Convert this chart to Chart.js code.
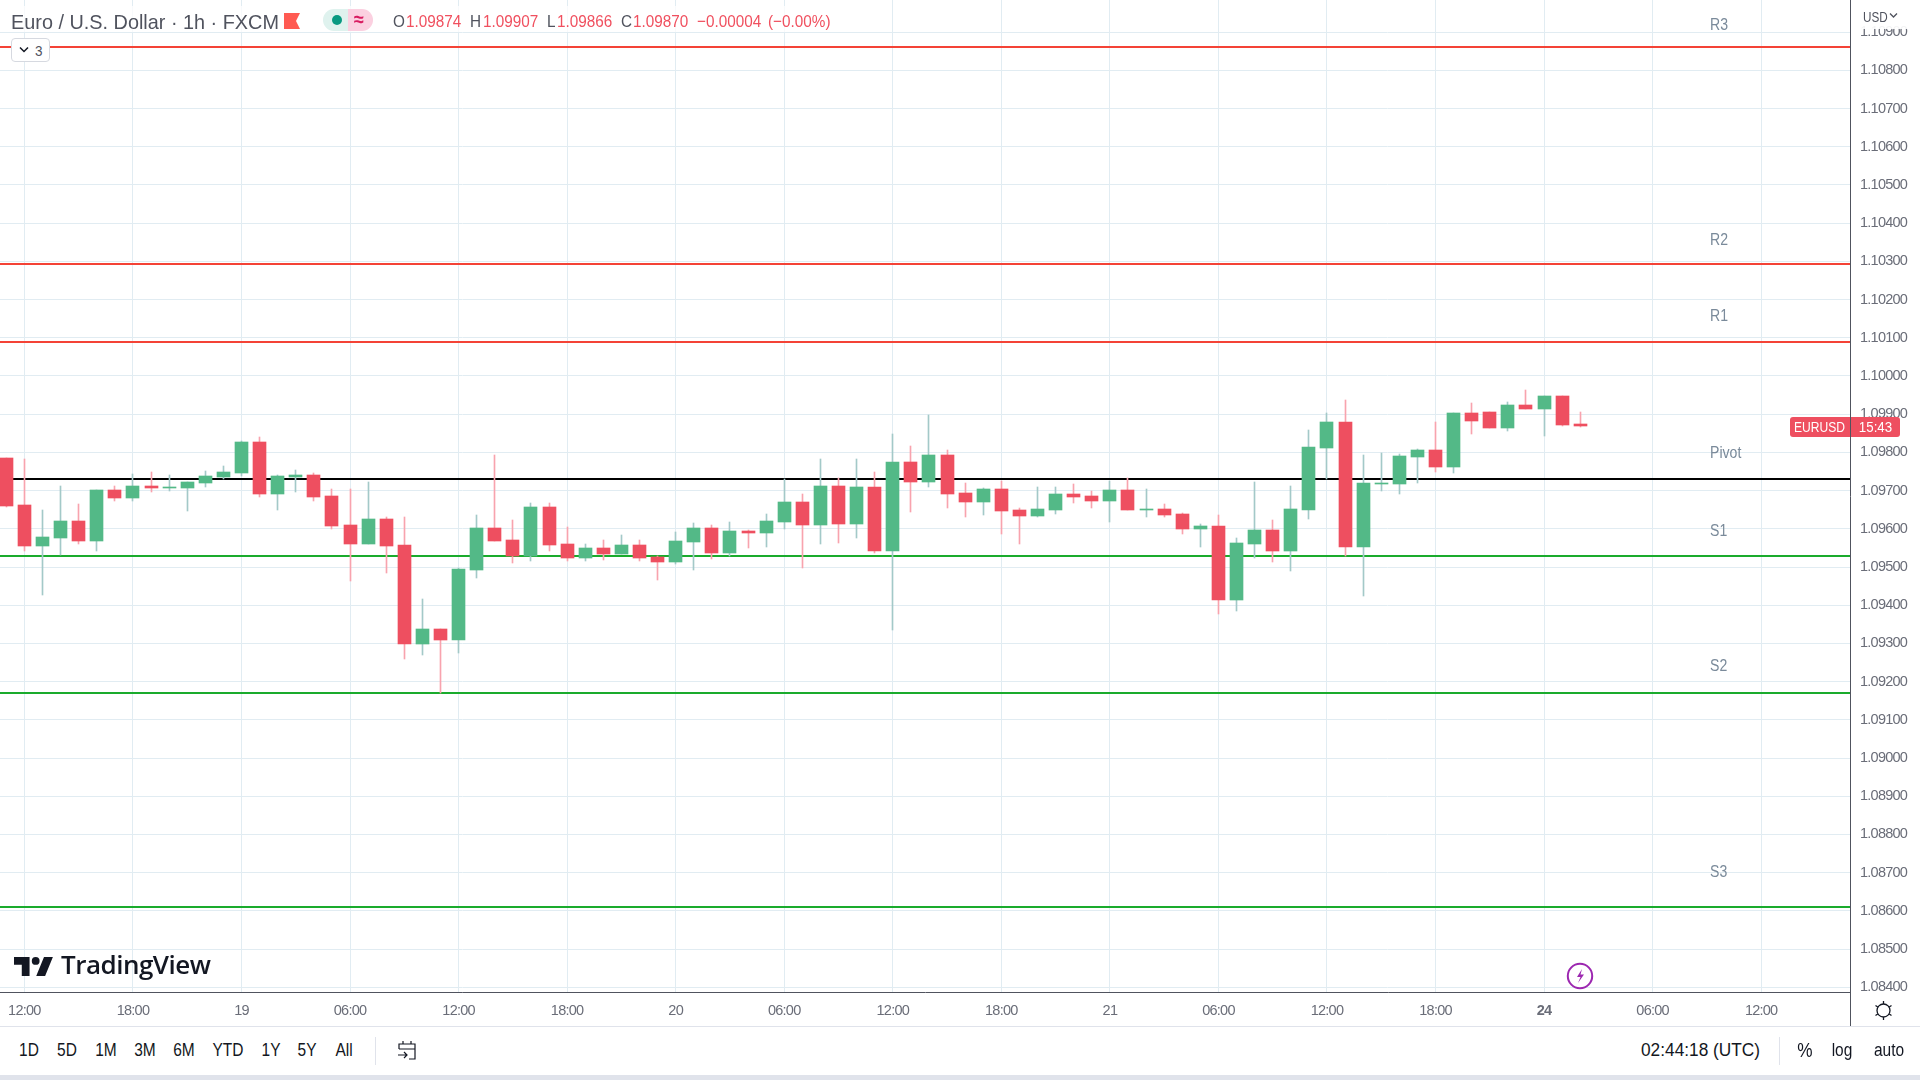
<!DOCTYPE html>
<html><head><meta charset="utf-8"><title>EURUSD</title>
<script src="https://cdn.jsdelivr.net/npm/chart.js@4/dist/chart.umd.min.js"></script>
<style>
html,body{margin:0;padding:0;background:#fff;width:1920px;height:1080px;overflow:hidden}
body{position:relative;font-family:"Liberation Sans",sans-serif;color:#131722}
canvas{position:absolute;left:0;top:0}
.t{position:absolute;white-space:nowrap;line-height:1;transform-origin:left center;transform:scaleX(.9)}
.c{transform-origin:center center;transform:translateX(-50%) scaleX(.86)}
.box{position:absolute}
.g{color:#50535e}.r{color:#f0505f}
svg{position:absolute}
</style></head><body>
<canvas id="c" width="1920" height="1027"></canvas>

<div class="box" style="left:1852px;top:0;width:68px;height:29px;background:rgba(255,255,255,.92)"></div>
<div class="t" style="left:1863px;top:9px;font-size:15px;color:#50535e;transform:scaleX(.78)">USD</div>
<svg style="left:1889px;top:12px" width="9" height="7" viewBox="0 0 9 7"><path d="M1 1.5l3.5 3.5L8 1.5" fill="none" stroke="#50535e" stroke-width="1.3"/></svg>

<div class="box" style="left:0;top:6px;width:835px;height:26px;background:rgba(255,255,255,.75)"></div>
<div class="t" style="left:11px;top:11px;font-size:21px;color:#50535e;transform:scaleX(.945)" id="title">Euro / U.S. Dollar · 1h · FXCM</div>
<svg style="left:284px;top:13px" width="16" height="16" viewBox="0 0 16 16"><path d="M0 0H16L12 8L16 16H0Z" fill="#ff5a52"/></svg>
<div class="box" style="left:323px;top:9px;width:25px;height:22px;background:#dff2ee;border-radius:11px 0 0 11px"></div>
<div class="box" style="left:348px;top:9px;width:25px;height:22px;background:#fbd0e0;border-radius:0 11px 11px 0"></div>
<div class="box" style="left:332px;top:15px;width:10px;height:10px;background:#089981;border-radius:5px"></div>
<div class="t" style="left:354px;top:9px;font-size:20px;color:#d81b60;font-weight:bold">≈</div>

<div class="t g" style="left:393px;top:13px;font-size:17px">O</div><div class="t r" style="left:406px;top:13px;font-size:17px">1.09874</div>
<div class="t g" style="left:470px;top:13px;font-size:17px">H</div><div class="t r" style="left:483px;top:13px;font-size:17px">1.09907</div>
<div class="t g" style="left:547px;top:13px;font-size:17px">L</div><div class="t r" style="left:557px;top:13px;font-size:17px">1.09866</div>
<div class="t g" style="left:621px;top:13px;font-size:17px">C</div><div class="t r" style="left:633px;top:13px;font-size:17px">1.09870</div>
<div class="t r" style="left:697px;top:13px;font-size:17px">−0.00004</div>
<div class="t r" style="left:768px;top:13px;font-size:17px">(−0.00%)</div>

<div class="box" style="left:11px;top:38px;width:39px;height:24px;background:#fff;border:1px solid #d6d9e0;border-radius:4px;box-sizing:border-box"></div>
<svg style="left:19px;top:46px" width="10" height="8" viewBox="0 0 10 8"><path d="M1 1.5l4 4 4-4" fill="none" stroke="#131722" stroke-width="1.5"/></svg>
<div class="t" style="left:35px;top:43px;font-size:15px;color:#50535e">3</div>

<svg style="left:14px;top:957px" width="40" height="19" viewBox="0 0 36 17"><path d="M14 17H7V7H0V0h14zM28 17h-8L27 0h8z" fill="#131722"/><circle cx="19.5" cy="3.5" r="3.5" fill="#131722"/></svg>
<div class="t" style="left:61px;top:951px;font-family:'Open Sans',sans-serif;font-weight:600;font-size:26px;letter-spacing:-.5px;color:#131722;transform:none">TradingView</div>

<svg style="left:1566px;top:962px" width="28" height="28" viewBox="0 0 28 28"><circle cx="14" cy="14" r="12.2" fill="#fff" stroke="#9c27b0" stroke-width="2"/><path d="M16 7l-5 8h3.5l-2.500 6 6-8.500h-3.500z" fill="#9c27b0"/></svg>

<div class="box" style="left:1850px;top:992px;width:1px;height:34px;background:#50535e"></div>
<svg style="left:1873px;top:1000px" width="21" height="21" viewBox="0 0 21 21"><circle cx="10.500" cy="10.500" r="6.500" fill="none" stroke="#131722" stroke-width="1.300"/><path d="M10.500 1v3M10.500 17v3M2.500 5.500l2.300 1.500M16.200 14l2.300 1.500M2.500 15.500l2.300-1.500M16.200 7l2.300-1.500" stroke="#131722" stroke-width="1.300"/></svg>
<div class="box" style="left:0;top:1026px;width:1920px;height:1px;background:#e0e3eb"></div>

<div class="t c" style="left:29px;top:1041px;font-size:18px">1D</div>
<div class="t c" style="left:67px;top:1041px;font-size:18px">5D</div>
<div class="t c" style="left:106px;top:1041px;font-size:18px">1M</div>
<div class="t c" style="left:145px;top:1041px;font-size:18px">3M</div>
<div class="t c" style="left:184px;top:1041px;font-size:18px">6M</div>
<div class="t c" style="left:228px;top:1041px;font-size:18px">YTD</div>
<div class="t c" style="left:271px;top:1041px;font-size:18px">1Y</div>
<div class="t c" style="left:307px;top:1041px;font-size:18px">5Y</div>
<div class="t c" style="left:344px;top:1041px;font-size:18px">All</div>
<div class="box" style="left:375px;top:1037px;width:1px;height:28px;background:#e0e3eb"></div>
<svg style="left:396px;top:1040px" width="22" height="22" viewBox="0 0 22 22"><path d="M3 9V4h16v15h-6M3 9h16M7 1v3M15 1v3M2 15h9M8 12l3 3-3 3" fill="none" stroke="#131722" stroke-width="1.200"/></svg>

<div class="t" style="left:1641px;top:1041px;font-size:18px;transform:scaleX(.96)">02:44:18 (UTC)</div>
<div class="box" style="left:1779px;top:1037px;width:1px;height:28px;background:#e0e3eb"></div>
<div class="t c" style="left:1805px;top:1040px;font-size:20px">%</div>
<div class="t c" style="left:1842px;top:1041px;font-size:18px">log</div>
<div class="t c" style="left:1889px;top:1041px;font-size:18px">auto</div>
<div class="box" style="left:0;top:1075px;width:1920px;height:5px;background:#e0e3eb"></div>

<script>
const firstBar = -1;
const opens = [1.09785,1.09662,1.09555,1.09576,1.09620,1.09568,1.09701,1.09680,1.09712,1.09707,1.09707,1.09720,1.09735,1.09746,1.09827,1.09691,1.09735,1.09741,1.09686,1.09610,1.09560,1.09625,1.09557,1.09298,1.09338,1.09309,1.09492,1.09602,1.09571,1.09530,1.09657,1.09560,1.09523,1.09550,1.09534,1.09557,1.09526,1.09513,1.09565,1.09602,1.09536,1.09594,1.09589,1.09618,1.09670,1.09610,1.09712,1.09612,1.09709,1.09543,1.09775,1.09722,1.09793,1.09694,1.09670,1.09704,1.09649,1.09633,1.09649,1.09691,1.09686,1.09673,1.09701,1.09649,1.09652,1.09639,1.09599,1.09607,1.09413,1.09560,1.09597,1.09543,1.09649,1.09811,1.09879,1.09552,1.09717,1.09717,1.09788,1.09806,1.09762,1.09903,1.09906,1.09864,1.09924,1.09913,1.09948,1.09874];
const highs = [1.09785,1.09783,1.09649,1.09712,1.09665,1.09701,1.09712,1.09743,1.09749,1.09741,1.09722,1.09751,1.09764,1.09830,1.09840,1.09741,1.09754,1.09746,1.09704,1.09704,1.09722,1.09631,1.09631,1.09416,1.09338,1.09497,1.09636,1.09793,1.09623,1.09667,1.09667,1.09605,1.09560,1.09571,1.09584,1.09571,1.09529,1.09591,1.09615,1.09610,1.09618,1.09597,1.09639,1.09730,1.09691,1.09783,1.09733,1.09783,1.09749,1.09848,1.09817,1.09898,1.09806,1.09720,1.09707,1.09725,1.09654,1.09709,1.09709,1.09717,1.09699,1.09725,1.09733,1.09704,1.09665,1.09641,1.09612,1.09636,1.09576,1.09722,1.09623,1.09712,1.09858,1.09903,1.09937,1.09793,1.09798,1.09796,1.09809,1.09879,1.09903,1.09929,1.09906,1.09932,1.09963,1.09948,1.09948,1.09907];
const lows = [1.09657,1.09542,1.09427,1.09531,1.09560,1.09543,1.09673,1.09673,1.09696,1.09699,1.09646,1.09709,1.09730,1.09738,1.09683,1.09649,1.09696,1.09673,1.09599,1.09463,1.09560,1.09484,1.09259,1.09270,1.09170,1.09275,1.09471,1.09568,1.09510,1.09516,1.09542,1.09516,1.09516,1.09518,1.09534,1.09516,1.09466,1.09508,1.09492,1.09521,1.09529,1.09550,1.09552,1.09599,1.09497,1.09560,1.09563,1.09576,1.09536,1.09335,1.09644,1.09709,1.09654,1.09631,1.09636,1.09586,1.09560,1.09631,1.09639,1.09667,1.09654,1.09618,1.09649,1.09631,1.09631,1.09586,1.09552,1.09377,1.09385,1.09523,1.09513,1.09489,1.09625,1.09730,1.09529,1.09424,1.09699,1.09691,1.09720,1.09749,1.09746,1.09848,1.09864,1.09856,1.09913,1.09843,1.09869,1.09866];
const closes = [1.09660,1.09555,1.09578,1.09620,1.09568,1.09701,1.09680,1.09712,1.09707,1.09709,1.09722,1.09738,1.09749,1.09827,1.09691,1.09738,1.09741,1.09683,1.09607,1.09560,1.09625,1.09555,1.09298,1.09338,1.09309,1.09495,1.09602,1.09568,1.09530,1.09657,1.09557,1.09523,1.09550,1.09534,1.09557,1.09523,1.09513,1.09568,1.09602,1.09536,1.09594,1.09589,1.09620,1.09670,1.09610,1.09712,1.09612,1.09709,1.09543,1.09775,1.09722,1.09793,1.09691,1.09670,1.09704,1.09646,1.09633,1.09652,1.09691,1.09683,1.09673,1.09701,1.09649,1.09652,1.09636,1.09599,1.09607,1.09413,1.09563,1.09597,1.09543,1.09652,1.09814,1.09879,1.09552,1.09720,1.09720,1.09790,1.09806,1.09762,1.09903,1.09882,1.09864,1.09924,1.09913,1.09948,1.09872,1.09870];

const timeTickBars = [0,6,12,18,24,30,36,42,48,54,60,66,72,78,84,90,96];
const timeTickLabels = ["12:00","18:00","19","06:00","12:00","18:00","20","06:00","12:00","18:00","21","06:00","12:00","18:00","24","06:00","12:00"];
const boldTimeTick = "24";
const priceTicks = [1.084,1.085,1.086,1.087,1.088,1.089,1.090,1.091,1.092,1.093,1.094,1.095,1.096,1.097,1.098,1.099,1.100,1.101,1.102,1.103,1.104,1.105,1.106,1.107,1.108,1.109];

const levelNames = ["R3","R2","R1","Pivot","S1","S2","S3"];
const levelValues = [1.10861,1.10292,1.10090,1.09730,1.09529,1.09170,1.08609];
const levelColors = ["#f44336","#f44336","#f44336","#000000","#1aab2c","#1aab2c","#1aab2c"];
const levelLabelPrices = [1.10920,1.10356,1.10157,1.09800,1.09596,1.09241,1.08702];

const axisFont = '"Liberation Sans",sans-serif';
const UP = "#53b987", DOWN = "#ee4f60", UPW = "#a3c9c8", DOWNW = "#f8a3ae";
const xMin = -1.348, xMax = 100.91, yMin = 1.083877, yMax = 1.10984;

const isUp = closes.map((c,i)=>c>=opens[i]);
const levelSets = levelValues.map((v,i)=>({
  type:"line", label:levelNames[i], order:3,
  data:[{x:xMin,y:v},{x:xMax,y:v}],
  borderColor:levelColors[i], borderWidth:2, pointRadius:0, tension:0
}));

const noPad = s => { s.paddingLeft=0; s.paddingRight=0; s.paddingTop=0; s.paddingBottom=0; };

const snapMarks = {
  id:"snapMarks",
  beforeDraw(chart){ chart.ctx.letterSpacing="-0.75px"; },
  beforeDatasetsDraw(chart){
    chart.data.datasets.forEach((d,di)=>{
      const pts=chart.getDatasetMeta(di).data;
      if(d.type==="line"){ pts.forEach(p=>{p.y=Math.round(p.y);}); return; }
      pts.forEach(el=>{
        el.x = Math.round(el.x-0.5)+0.5;
        let a=Math.round(el.y), b=Math.round(el.base);
        if(a===b) a=b-1;
        el.y=a; el.base=b;
      });
    });
  }
};
function squeezed(c,text,x,y,sx){
  c.save(); c.translate(x,y); c.scale(sx,1); c.fillText(text,0,0); c.restore();
}
const overlay = {
  id:"overlay",
  afterDraw(chart){
    const c=chart.ctx, y=chart.scales.y;
    c.save();
    c.letterSpacing="0px";
    c.font='16px '+axisFont; c.fillStyle="#7a8a9a"; c.textBaseline="middle"; c.textAlign="left";
    levelNames.forEach((n,i)=>squeezed(c,n,1710,y.getPixelForValue(levelLabelPrices[i])+1,0.88));
    const py=Math.round(y.getPixelForValue(closes[closes.length-1]))+1;
    c.fillStyle=DOWN;
    c.beginPath(); c.roundRect(1790,py-10,60,20,[3,0,0,3]); c.fill();
    c.beginPath(); c.roundRect(1851,py-10,49,20,[0,3,3,0]); c.fill();
    c.fillStyle="#fff"; c.textAlign="center"; c.font='15.5px '+axisFont;
    squeezed(c,"EURUSD",1819.5,py+0.5,0.78);
    squeezed(c,"15:43",1875.5,py+0.5,0.86);
    c.restore();
  }
};

new Chart(document.getElementById("c"),{
  data:{datasets:[
    ...levelSets,
    {type:"bar",label:"wick",order:2,grouped:false,barThickness:1,
     data:highs.map((h,i)=>({x:firstBar+i,y:[lows[i],h]})),
     backgroundColor:isUp.map(u=>u?UPW:DOWNW)},
    {type:"bar",label:"body",order:1,grouped:false,barThickness:13,
     data:opens.map((o,i)=>({x:firstBar+i,y:[o,closes[i]]})),
     backgroundColor:isUp.map(u=>u?UP:DOWN)}
  ]},
  options:{
    responsive:false, animation:false, devicePixelRatio:1,
    layout:{padding:0},
    plugins:{legend:{display:false},tooltip:{enabled:false}},
    scales:{
      x:{type:"linear",position:"bottom",min:xMin,max:xMax,offset:false,
        afterBuildTicks(s){s.ticks=timeTickBars.map(v=>({value:v}));},
        afterFit(s){s.height=35;noPad(s);},
        grid:{offset:false,color:"#e1ecf2",lineWidth:1,drawTicks:false},
        border:{color:"#50535e",width:1},
        ticks:{autoSkip:false,maxRotation:0,padding:10,color:"#6a6d78",
          callback(v){return timeTickLabels[timeTickBars.indexOf(v)];},
          font(ctx){
            const l=ctx.tick?timeTickLabels[timeTickBars.indexOf(ctx.tick.value)]:"";
            return {family:axisFont,size:14.5,weight:l===boldTimeTick?"bold":"normal"};
          }}
      },
      y:{type:"linear",position:"right",min:yMin,max:yMax,
        afterBuildTicks(s){s.ticks=priceTicks.map(v=>({value:v}));},
        afterFit(s){s.width=70;noPad(s);},
        grid:{color:"#e1ecf2",lineWidth:1,drawTicks:false},
        border:{color:"#50535e",width:1},
        ticks:{autoSkip:false,padding:10,color:"#6a6d78",
          font:{family:axisFont,size:14.5},
          callback(v){return v.toFixed(5);}}
      }
    }
  },
  plugins:[snapMarks,overlay]
});
</script>
</body></html>
